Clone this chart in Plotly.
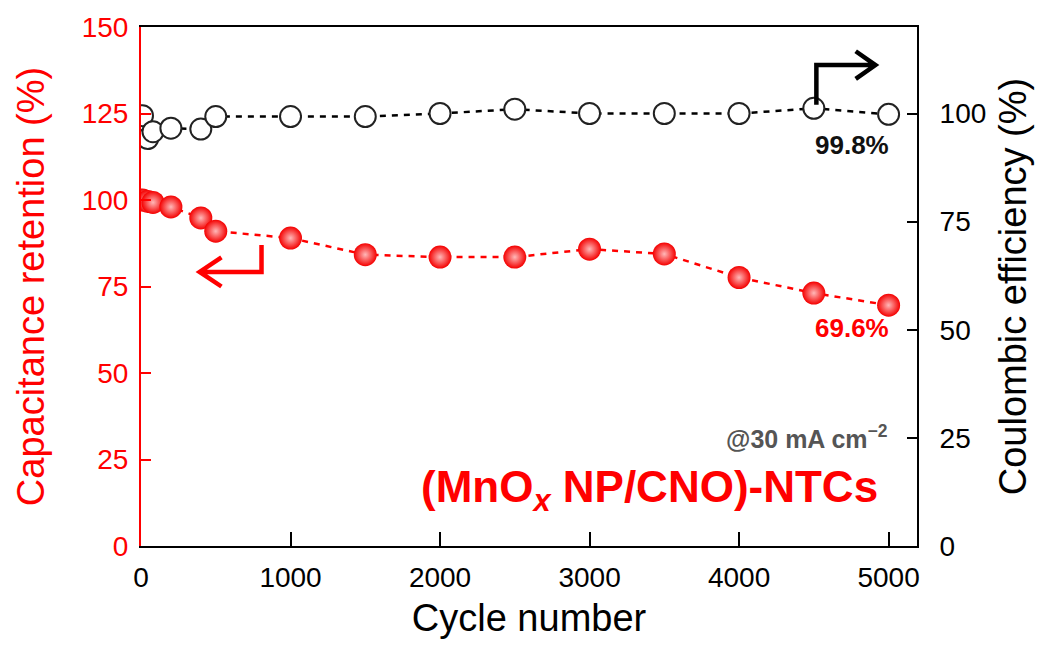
import plotly.graph_objects as go

# ---- data ----
cycles_ret = [10, 45, 80, 200, 400, 500, 1000, 1500, 2000, 2500, 3000, 3500, 4000, 4500, 5000]
retention = [100.0, 99.6, 99.3, 98.0, 94.8, 91.0, 89.0, 84.2, 83.5, 83.5, 85.8, 84.4, 77.6, 73.1, 69.6]

cycles_ce = [10, 45, 80, 200, 400, 500, 1000, 1500, 2000, 2500, 3000, 3500, 4000, 4500, 5000]
coulombic = [99.5, 94.2, 95.8, 96.6, 96.4, 99.3, 99.3, 99.3, 100.0, 101.0, 100.0, 100.0, 100.0, 101.2, 99.8]

x_ticks = [0, 1000, 2000, 3000, 4000, 5000]
left_ticks = [0, 25, 50, 75, 100, 125, 150]
right_ticks = [0, 25, 50, 75, 100]

RED = "#ff0000"
FONT = "Liberation Sans, Arial, sans-serif"

fig = go.Figure()

fig.add_trace(go.Scatter(
    x=cycles_ce, y=coulombic, yaxis="y2", mode="lines+markers",
    line=dict(color="black", width=2.5, dash="6px,6px"),
    marker=dict(symbol="circle", size=21, color="white",
                line=dict(color="#222222", width=2)),
    showlegend=False,
))

fig.add_trace(go.Scatter(
    x=cycles_ret, y=retention, mode="lines+markers",
    line=dict(color=RED, width=2.5, dash="6px,6px"),
    marker=dict(symbol="circle", size=23, color="#f40000",
                gradient=dict(type="radial", color="#ffb8b8"),
                line=dict(width=0)),
    showlegend=False,
))

# L-shaped arrows (red -> left axis, black -> right axis), drawn as paths in data coords
fig.add_shape(type="path", xref="x", yref="y",
              path="M 806,87 L 806,79.2 L 392,79.2 M 538,83.4 L 392,79.2 L 538,75.0",
              line=dict(color=RED, width=4.5))
fig.add_shape(type="path", xref="x", yref="y",
              path="M 4517,127.5 L 4517,139 L 4912,139 M 4780,143 L 4912,139 L 4780,135",
              line=dict(color="black", width=4.5))

# text labels
fig.add_annotation(x=4757, y=115.9, xref="x", yref="y", text="<b>99.8%</b>", showarrow=False,
                   font=dict(family=FONT, size=26, color="#111111"))
fig.add_annotation(x=4757, y=63, xref="x", yref="y", text="<b>69.6%</b>", showarrow=False,
                   font=dict(family=FONT, size=26, color=RED))
fig.add_annotation(x=5010, y=31.5, xref="x", yref="y", xanchor="right",
                   text="<b>@30 mA cm<sup>\u22122</sup></b>", showarrow=False,
                   font=dict(family=FONT, size=25, color="#555555"))
fig.add_annotation(x=4945, y=16.2, xref="x", yref="y", xanchor="right",
                   text="<b>(MnO<sub><i>x</i></sub> NP/CNO)-NTCs</b>", showarrow=False,
                   font=dict(family=FONT, size=44, color=RED))

fig.update_layout(
    width=1046, height=645,
    margin=dict(l=133, r=137, t=19, b=107, autoexpand=False),
    paper_bgcolor="white", plot_bgcolor="white",
    font=dict(family=FONT, color="black"),
    xaxis=dict(
        range=[0, 5190], tickvals=x_ticks, ticks="inside", ticklen=14, tickwidth=2,
        tickcolor="black", showline=True, linecolor="black", linewidth=2, mirror=True,
        showgrid=False, zeroline=False, automargin=False, ticklabelstandoff=5,
        tickfont=dict(family=FONT, size=28, color="black"),
        title=dict(text="Cycle number", font=dict(family=FONT, size=38, color="black"), standoff=13),
    ),
    yaxis=dict(
        range=[0, 150], tickvals=left_ticks, ticks="inside", ticklen=10, tickwidth=2,
        tickcolor=RED, showline=True, linecolor=RED, linewidth=2,
        showgrid=False, zeroline=False, automargin=False, ticklabelstandoff=5,
        tickfont=dict(family=FONT, size=28, color=RED),
        title=dict(text="Capacitance retention (%)", font=dict(family=FONT, size=38, color=RED), standoff=25),
    ),
    yaxis2=dict(
        range=[0, 120], tickvals=right_ticks, overlaying="y", side="right",
        ticks="inside", ticklen=10, tickwidth=2, tickcolor="black",
        showline=True, linecolor="black", linewidth=2,
        showgrid=False, zeroline=False, automargin=False, ticklabelstandoff=15,
        tickfont=dict(family=FONT, size=28, color="black"),
        title=dict(text="Coulombic efficiency (%)", font=dict(family=FONT, size=38, color="black"), standoff=14),
    ),
)

fig.write_html("out.html")
